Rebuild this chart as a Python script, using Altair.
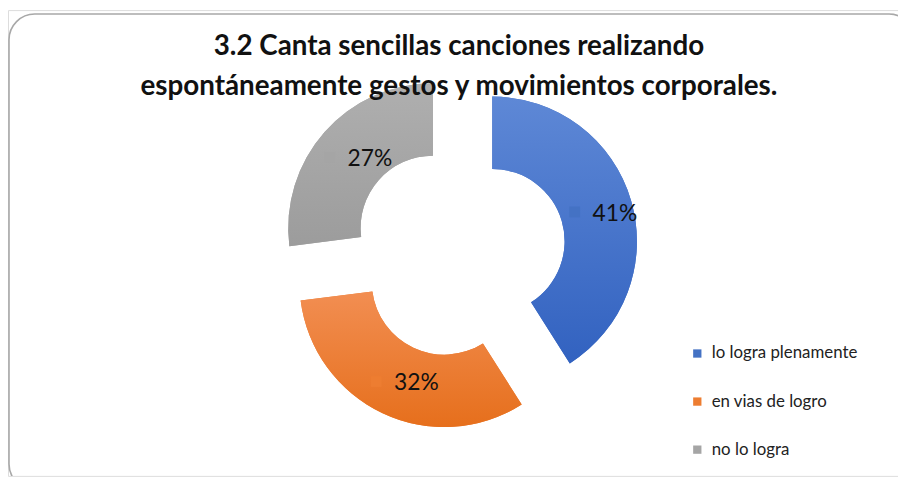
import math
import altair as alt
import pandas as pd

# ---- data ----
categories = ["lo logra plenamente", "en vias de logro", "no lo logra"]
percents = [41, 32, 27]
labels = ["41%", "32%", "27%"]
title_lines = [
    "3.2 Canta sencillas canciones realizando",
    "espontáneamente gestos y movimientos corporales.",
]

# ---- style ----
colors = ["#4472C4", "#ED7D31", "#A5A5A5"]
grad_top = ["#5E88D6", "#F28E52", "#AFAFAF"]
grad_bot = ["#3262C0", "#E66F1C", "#9C9C9C"]
FONT = "Lato"

W, H = 898, 470
CX, CY = 455, 243
D = 35            # explosion distance
R_OUT, R_IN = 146, 73
R_LAB = 109.5
TOTAL = sum(percents)

df = pd.DataFrame({"cat": categories, "pct": percents, "label": labels,
                   "order": list(range(len(categories)))})

base = (
    alt.Chart(df)
    .transform_window(cum="sum(pct)", sort=[{"field": "order"}], frame=[None, 0])
    .transform_calculate(start="datum.cum - datum.pct")
    .transform_calculate(mid=f"2*PI*(datum.cum - datum.pct/2)/{TOTAL}")
    .transform_calculate(px=f"{CX} + {D}*sin(datum.mid)")
    .transform_calculate(py=f"{CY} - {D}*cos(datum.mid)")
    .transform_calculate(lx=f"{CX} + {D + R_LAB}*sin(datum.mid)")
    .transform_calculate(ly=f"{CY} - {D + R_LAB}*cos(datum.mid)")
)

theta_scale = alt.Scale(domain=[0, TOTAL], range=[0, 2 * math.pi])
color_enc = alt.Color(
    "cat:N",
    scale=alt.Scale(domain=categories, range=colors),
    sort=categories,
    legend=alt.Legend(
        title=None, orient="none", legendX=687, legendY=338,
        symbolType="square", symbolSize=70, symbolStrokeWidth=0,
        labelFont=FONT, labelFontSize=17, labelColor="#222222",
        rowPadding=30.5, labelOffset=6,
    ),
)

arcs = base.mark_arc(outerRadius=R_OUT, innerRadius=R_IN, stroke=None).encode(
    theta=alt.Theta("start:Q", scale=theta_scale),
    theta2="cum:Q",
    x=alt.X("px:Q", scale=None),
    y=alt.Y("py:Q", scale=None),
    color=color_enc,
)

grad_layers = []
for i, c in enumerate(categories):
    grad = alt.LinearGradient(
        gradient="linear", x1=0, y1=0, x2=0, y2=1,
        stops=[alt.GradientStop(offset=0, color=grad_top[i]),
               alt.GradientStop(offset=1, color=grad_bot[i])],
    )
    grad_layers.append(
        base.transform_filter(alt.datum.cat == c)
        .mark_arc(outerRadius=R_OUT, innerRadius=R_IN, color=grad, stroke=None)
        .encode(
            theta=alt.Theta("start:Q", scale=theta_scale),
            theta2="cum:Q",
            x=alt.X("px:Q", scale=None),
            y=alt.Y("py:Q", scale=None),
        )
    )

squares = base.mark_point(shape="square", filled=True, size=120, opacity=1,
                          xOffset=-22, yOffset=1).encode(
    x=alt.X("lx:Q", scale=None),
    y=alt.Y("ly:Q", scale=None),
    color=alt.Color("cat:N", scale=alt.Scale(domain=categories, range=colors), legend=None),
)

texts = base.mark_text(align="left", baseline="middle", dx=-4, dy=3,
                       font=FONT, fontSize=23, color="#111111").encode(
    x=alt.X("lx:Q", scale=None),
    y=alt.Y("ly:Q", scale=None),
    text="label:N",
)

title_df = pd.DataFrame({"t": ["\n".join(title_lines)]})
title = alt.Chart(title_df).mark_text(
    font=FONT, fontSize=28, fontWeight="bold", color="#111111",
    lineBreak="\n", lineHeight=41, align="center", baseline="middle",
).encode(x=alt.value(455), y=alt.value(37), text="t:N")

frame = alt.Chart(title_df).mark_rect(
    filled=False, stroke="#a8a8a8", strokeWidth=1.6, cornerRadius=26, clip=True
).encode(x=alt.value(1), x2=alt.value(915), y=alt.value(4), y2=alt.value(484))

chart = (
    alt.layer(frame, arcs, *grad_layers, squares, texts, title)
    .properties(width=W, height=H, padding=0,
                autosize=alt.AutoSizeParams(type="none"))
    .configure_view(stroke=None)
    .configure(background="white")
)

chart.save("out.html", embed_options={"renderer": "svg", "actions": False})
